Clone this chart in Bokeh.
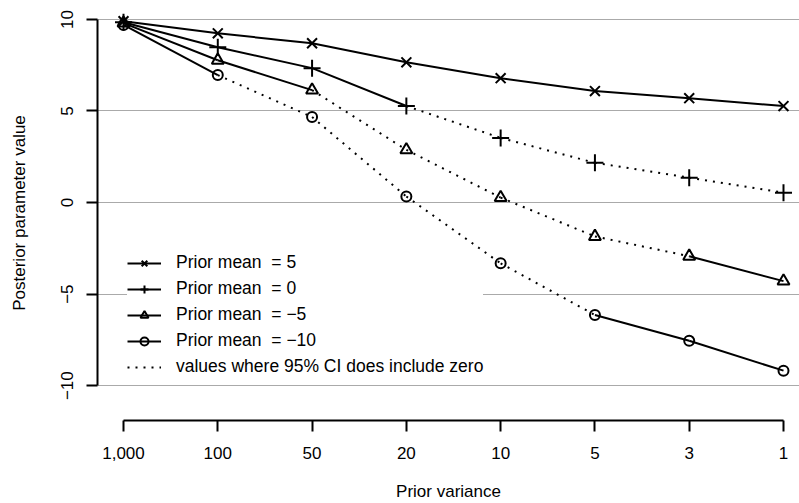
from bokeh.plotting import figure
from bokeh.models import Range1d, FixedTicker, Legend, LegendItem
from bokeh.embed import file_html
from bokeh.resources import INLINE

# ---- data ----
variance_labels = ["1,000", "100", "50", "20", "10", "5", "3", "1"]
x_pos = [0, 1, 2, 3, 4, 5, 6, 7]

mean_p5 = [9.90, 9.24, 8.70, 7.66, 6.79, 6.09, 5.70, 5.27]
mean_0 = [9.85, 8.48, 7.34, 5.27, 3.53, 2.17, 1.36, 0.54]
mean_m5 = [9.80, 7.77, 6.14, 2.88, 0.27, -1.85, -2.93, -4.29]
mean_m10 = [9.70, 6.96, 4.67, 0.33, -3.32, -6.14, -7.55, -9.18]

# True where the 95% CI includes zero
ci0_p5 = [False, False, False, False, False, False, False, False]
ci0_0 = [False, False, False, False, True, True, True, True]
ci0_m5 = [False, False, False, True, True, True, False, False]
ci0_m10 = [False, False, True, True, True, False, False, False]

labels = ["Prior mean \u00a0= 5", "Prior mean \u00a0= 0", "Prior mean \u00a0= \u22125",
          "Prior mean \u00a0= \u221210"]
dotted_label = "values where 95% CI does include zero"
y_ticks = [-10, -5, 0, 5, 10]
y_tick_labels = ["\u221210", "\u22125", "0", "5", "10"]

FONT = "Liberation Sans"

p = figure(width=799, height=503, output_backend="svg", toolbar_location=None,
           x_range=Range1d(-0.2758, 7.1697), y_range=Range1d(-11.902, 10.761),
           min_border_left=97, min_border_right=0, min_border_top=5, min_border_bottom=81)
p.outline_line_color = None
p.background_fill_color = "white"
p.border_fill_color = "white"

# axes
p.xaxis.ticker = FixedTicker(ticks=x_pos)
p.xaxis.major_label_overrides = {i: l for i, l in zip(x_pos, variance_labels)}
p.yaxis.ticker = FixedTicker(ticks=y_ticks)
p.yaxis.major_label_overrides = {t: l for t, l in zip(y_ticks, y_tick_labels)}
p.xaxis.bounds = (0, 7)
p.yaxis.bounds = (-10, 10)
for ax in (p.xaxis, p.yaxis):
    ax.axis_line_color = "black"
    ax.axis_line_width = 2
    ax.major_tick_line_color = "black"
    ax.major_tick_line_width = 2
    ax.major_tick_out = 11
    ax.major_tick_in = 0
    ax.minor_tick_line_color = None
    ax.major_label_text_font = FONT
    ax.major_label_text_font_size = "17px"
    ax.major_label_text_color = "black"
    ax.axis_label_text_font = FONT
    ax.axis_label_text_font_size = "17px"
    ax.axis_label_text_font_style = "normal"
    ax.axis_label_text_color = "black"
p.xaxis.axis_label = "Prior variance"
p.yaxis.axis_label = "Posterior parameter value"
p.yaxis.major_label_orientation = "vertical"
p.xaxis.major_label_standoff = 15
p.yaxis.major_label_standoff = 13
p.xaxis.axis_label_standoff = 20
p.yaxis.axis_label_standoff = 30

p.xgrid.grid_line_color = None
p.ygrid.ticker = FixedTicker(ticks=y_ticks)
p.ygrid.grid_line_color = "#aaaaaa"
p.ygrid.grid_line_width = 1

series = [(mean_p5, ci0_p5, "x", 14), (mean_0, ci0_0, "cross", 17),
          (mean_m5, ci0_m5, "triangle", 12), (mean_m10, ci0_m10, "circle", 10)]

dx0, dy0, dx1, dy1 = [], [], [], []
items = []
for (vals, flags, marker, size), lab in zip(series, labels):
    sx0, sy0, sx1, sy1 = [], [], [], []
    for i in range(len(vals) - 1):
        if flags[i] or flags[i + 1]:
            dx0.append(x_pos[i]); dy0.append(vals[i]); dx1.append(x_pos[i + 1]); dy1.append(vals[i + 1])
        else:
            sx0.append(x_pos[i]); sy0.append(vals[i]); sx1.append(x_pos[i + 1]); sy1.append(vals[i + 1])
    seg = p.segment(x0=sx0, y0=sy0, x1=sx1, y1=sy1, line_color="black", line_width=2)
    sc = p.scatter(x=x_pos, y=vals, marker=marker, size=size, line_color="black",
                   line_width=2, fill_color=None)
    items.append(LegendItem(label=lab, renderers=[seg, sc]))

dseg = p.segment(x0=dx0, y0=dy0, x1=dx1, y1=dy1, line_color="black", line_width=2,
                 line_dash="2 6")
items.append(LegendItem(label=dotted_label, renderers=[dseg]))

legend = Legend(items=items, location=(30, 43), padding=14, spacing=5,
                glyph_height=20, glyph_width=34, label_standoff=15,
                label_text_font=FONT, label_text_font_size="17.5px", label_text_color="black",
                border_line_color=None, background_fill_color="white", background_fill_alpha=1.0)
p.add_layout(legend)

open("out.html", "w").write(file_html(p, INLINE))
